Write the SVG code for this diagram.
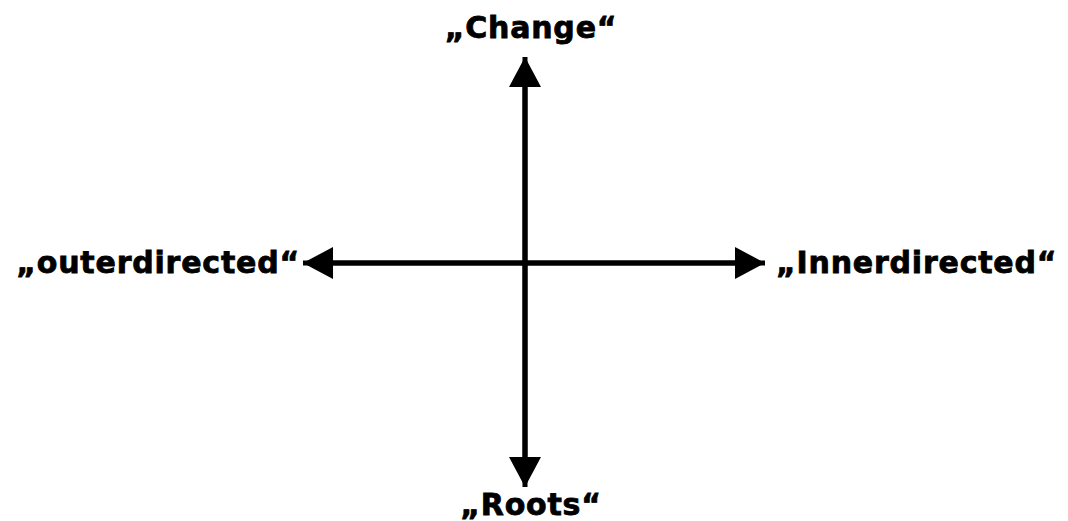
<svg xmlns="http://www.w3.org/2000/svg" width="1068" height="521" viewBox="0 0 1068 521">
<style>
.lbl{font-family:"DejaVu Sans",Verdana,sans-serif;font-weight:bold;font-size:30px;fill:#000;stroke:#000;stroke-width:0.8;letter-spacing:0.8px}
.ax{stroke:#000;stroke-width:5;fill:none}
</style>
<defs>
<marker id="ah" markerUnits="userSpaceOnUse" markerWidth="32" markerHeight="32" refX="30" refY="16" orient="auto" viewBox="0 0 32 32">
<path d="M0,0 L30,16 L0,32 Z" fill="#000"/>
</marker>
</defs>
<rect width="1068" height="521" fill="#fff"/>
<g id="connectors">
<line class="ax" x1="525" y1="472" x2="525" y2="57" marker-end="url(#ah)"/>
<line class="ax" x1="525" y1="72" x2="525" y2="487" marker-end="url(#ah)"/>
<line class="ax" x1="750" y1="263" x2="303" y2="263" marker-end="url(#ah)"/>
<line class="ax" x1="318" y1="263" x2="765" y2="263" marker-end="url(#ah)"/>
</g>
<g id="change"><text class="lbl" x="531" y="38" text-anchor="middle">„Change“</text></g>
<g id="outer"><text class="lbl" x="300" y="273" text-anchor="end">„outerdirected“</text></g>
<g id="inner"><text class="lbl" x="776" y="273">„Innerdirected“</text></g>
<g id="roots"><text class="lbl" x="531" y="515" text-anchor="middle">„Roots“</text></g>
</svg>
